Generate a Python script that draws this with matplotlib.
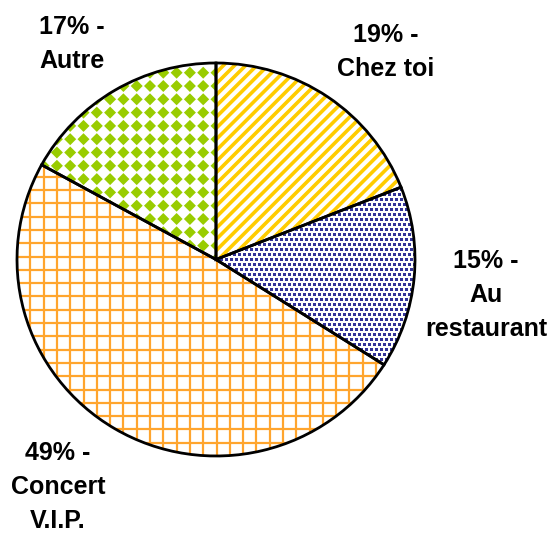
import matplotlib
matplotlib.use("Agg")
import matplotlib.pyplot as plt
from matplotlib.collections import PolyCollection
import numpy as np

labels = ["Chez toi", "Au\nrestaurant", "Concert\nV.I.P.", "Autre"]
shares = [19, 15, 49, 17]
# label centres in pixels (x, y from top)
label_pos = [(386, 52), (486, 295), (58, 487), (72, 44)]

W, H = 550, 534
plt.rcParams['font.family'] = ['Liberation Sans', 'DejaVu Sans']
plt.rcParams['hatch.linewidth'] = 2.6

fig = plt.figure(figsize=(W / 100, H / 100), dpi=100)
cx, cy, rx, ry = 216, 259.5, 199, 196.5
ax = fig.add_axes([(cx - rx) / W, (H - cy - ry) / H, 2 * rx / W, 2 * ry / H])

wedges, _ = ax.pie(shares, startangle=90, counterclock=False, radius=1,
                   wedgeprops=dict(facecolor='white', linewidth=0))
ax.set_aspect('auto')
ax.set_xlim(-1, 1)
ax.set_ylim(-1, 1)
ax.axis('off')

# Chez toi: yellow stripes
wedges[0].set_hatch('///')
wedges[0].set_edgecolor('#FFCC00')

# Au restaurant: navy dotted texture, snapped to the pixel grid
ds, sq = 5, 1.5
verts = []
for j in range(-35, 25):
    y = j * ds / ry
    shift = 3 if j % 2 else 0
    for k in range(0, 42):
        x = (k * ds + 0.5 + shift) / rx
        verts.append([(x - sq / rx, y - sq / ry), (x + sq / rx, y - sq / ry),
                      (x + sq / rx, y + sq / ry), (x - sq / rx, y + sq / ry)])
dots = PolyCollection(verts, facecolors='#333399', edgecolors='none',
                      antialiased=False, zorder=2)
ax.add_collection(dots)
dots.set_clip_path(wedges[1])

# Concert V.I.P.: orange grid
step_x = 13.3 / rx
step_y = 13.3 / ry
for x in np.arange(-1, 1.01, step_x):
    ln, = ax.plot([x, x], [-1, 1], color='#FFA52E', lw=1.6, zorder=2)
    ln.set_clip_path(wedges[2])
for y in np.arange(-1, 1.01, step_y):
    ln, = ax.plot([-1, 1], [y, y], color='#FFA52E', lw=1.6, zorder=2)
    ln.set_clip_path(wedges[2])

# Autre: green diamonds
hx, hy = 6.0 / rx, 6.0 / ry
verts = []
for x in np.arange(-1, 0.05, step_x):
    for y in np.arange(-0.2, 1.01, step_y):
        verts.append([(x - hx, y), (x, y + hy), (x + hx, y), (x, y - hy)])
dia = PolyCollection(verts, facecolors='#99CC00', edgecolors='none', zorder=2)
ax.add_collection(dia)
dia.set_clip_path(wedges[3])

# outlines
outl, _ = ax.pie(shares, startangle=90, counterclock=False, radius=1,
                 wedgeprops=dict(fill=False, edgecolor='black', linewidth=2.0))
for w in outl:
    w.set_zorder(3)
ax.set_aspect('auto')
ax.set_xlim(-1, 1)
ax.set_ylim(-1, 1)

for lab, s, (px, py) in zip(labels, shares, label_pos):
    fig.text(px / W, 1 - py / H, f"{s}% -\n{lab}", ha='center', va='center',
             multialignment='center', fontsize=18, fontweight='bold',
             linespacing=1.5)

fig.savefig("out.png", dpi=100)
